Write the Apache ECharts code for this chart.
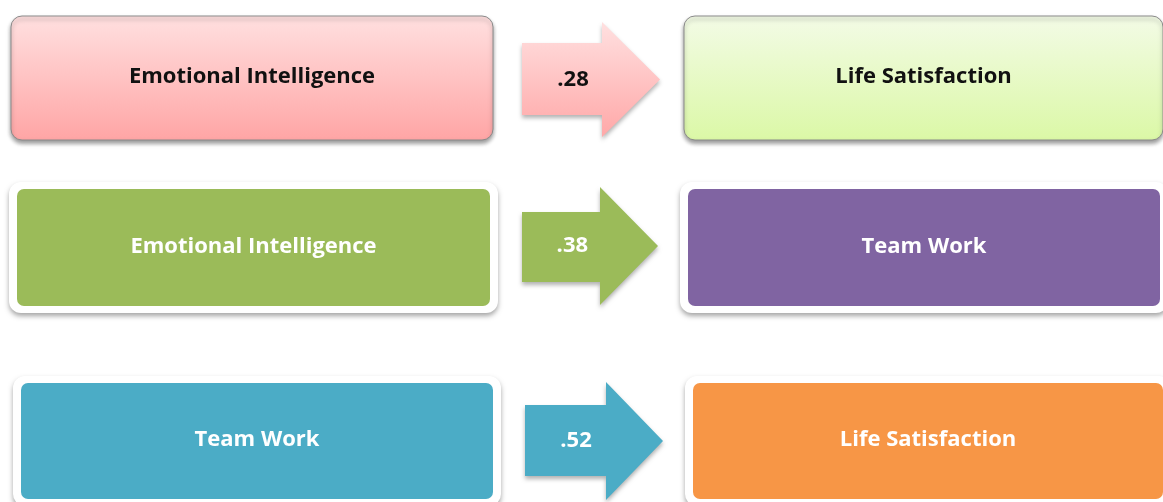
<!DOCTYPE html>
<html>
<head>
<meta charset="utf-8">
<script src="https://cdn.jsdelivr.net/npm/echarts@6/dist/echarts.min.js"></script>
<style>
html, body { margin: 0; padding: 0; background: #fff; }
#chart { width: 1163px; height: 502px; }
</style>
</head>
<body>
<div id="chart"></div>
<script>
// 数据
const sources = ['Emotional Intelligence', 'Emotional Intelligence', 'Team Work']
const targets = ['Life Satisfaction', 'Team Work', 'Life Satisfaction']
const coefficients = [0.28, 0.38, 0.52]

// 每一行的颜色
const sourceColors = ['#ffa8a8', '#9bbb59', '#4bacc6']
const targetColors = ['#dcf9a8', '#8064a2', '#f79646']

// 布局 (坐标轴单位 = 像素)
const layout = [
    { left: [11, 16, 493, 140], right: [684, 16, 1163, 140], arrow: [522, 602, 660, 43, 115, 22, 137], plain: false },
    { left: [17, 189, 490, 306], right: [688, 189, 1160, 306], arrow: [522, 600, 658, 212, 282, 187, 305], plain: true },
    { left: [21, 383, 493, 499], right: [693, 383, 1163, 499], arrow: [525, 606, 663, 405, 476, 382, 500], plain: true }
]

const font = 'bold 22px "Open Sans", "Noto Sans", sans-serif'

function gradient(top, bottom) {
    return new echarts.graphic.LinearGradient(0, 0, 0, 1, [
        { offset: 0, color: top },
        { offset: 1, color: bottom }
    ])
}

function box(api, b, fill, text, plain) {
    const p0 = api.coord([b[0], b[1]])
    const p1 = api.coord([b[2], b[3]])
    const w = p1[0] - p0[0]
    const h = p1[1] - p0[1]
    const children = []
    if (plain) {
        // 白色边框 + 阴影
        children.push({
            type: 'rect',
            shape: { x: p0[0] - 8, y: p0[1] - 7, width: w + 16, height: h + 14, r: 12 },
            style: { fill: '#fff', shadowBlur: 5, shadowOffsetY: 3, shadowColor: 'rgba(0,0,0,0.35)' }
        })
        children.push({
            type: 'rect',
            shape: { x: p0[0], y: p0[1], width: w, height: h, r: 7 },
            style: { fill: fill }
        })
    } else {
        children.push({
            type: 'rect',
            shape: { x: p0[0], y: p0[1], width: w, height: h, r: 11 },
            style: {
                fill: fill, stroke: '#8a8a8a', lineWidth: 1,
                shadowBlur: 4, shadowOffsetY: 3, shadowColor: 'rgba(0,0,0,0.4)'
            }
        })
    }
    children.push({
        type: 'text',
        style: {
            x: p0[0] + w / 2, y: p0[1] + h / 2 - 1,
            text: text, font: font,
            fill: plain ? '#fff' : '#111',
            align: 'center', verticalAlign: 'middle'
        }
    })
    return children
}

function arrow(api, a, fill, label, plain) {
    const [x0, x1, x2, sy0, sy1, hy0, hy1] = a
    const ty = (hy0 + hy1) / 2
    const pts = [[x0, sy0], [x1, sy0], [x1, hy0], [x2, ty], [x1, hy1], [x1, sy1], [x0, sy1]].map(p => api.coord(p))
    const c = api.coord([x0 + 0.37 * (x2 - x0), ty])
    return [
        {
            type: 'polygon',
            shape: { points: pts },
            style: { fill: fill, shadowBlur: 4, shadowOffsetY: 3, shadowColor: 'rgba(0,0,0,0.3)' }
        },
        {
            type: 'text',
            style: {
                x: c[0], y: c[1], text: label, font: font,
                fill: plain ? '#fff' : '#111',
                align: 'center', verticalAlign: 'middle'
            }
        }
    ]
}

function renderItem(params, api) {
    const i = api.value(0)
    const L = layout[i]
    const label = coefficients[i].toFixed(2).replace(/^0/, '')
    let leftFill = sourceColors[i], rightFill = targetColors[i], arrowFill = sourceColors[i]
    if (!L.plain) {
        leftFill = gradient('#ffe0e0', '#ffa5a5')
        rightFill = gradient('#f3fbe6', '#dbf8a6')
        arrowFill = gradient('#ffe0e0', '#ffa8a8')
    }
    return {
        type: 'group',
        children: []
            .concat(box(api, L.left, leftFill, sources[i], L.plain))
            .concat(arrow(api, L.arrow, arrowFill, label, L.plain))
            .concat(box(api, L.right, rightFill, targets[i], L.plain))
    }
}

const chart = echarts.init(document.getElementById('chart'))
chart.setOption({
    animation: false,
    grid: { left: 0, right: 0, top: 0, bottom: 0 },
    xAxis: { type: 'value', min: 0, max: 1163, show: false },
    yAxis: { type: 'value', min: 0, max: 502, inverse: true, show: false },
    series: [{
        type: 'custom',
        renderItem: renderItem,
        clip: false,
        data: coefficients.map((v, i) => [i, v])
    }]
})
</script>
</body>
</html>
